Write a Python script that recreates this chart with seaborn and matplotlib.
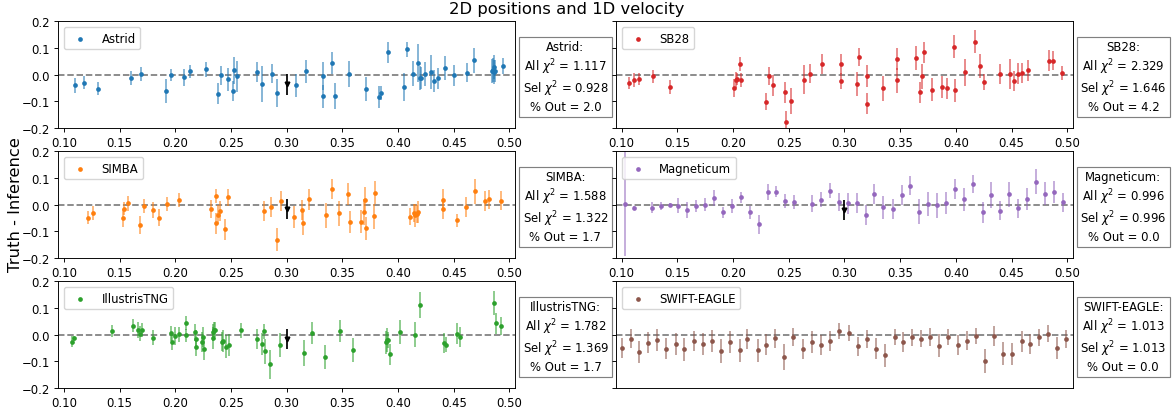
import numpy as np
import matplotlib
matplotlib.use("Agg")
import matplotlib.pyplot as plt
import seaborn as sns

# ---- data ----
astrid_x = [0.110, 0.118, 0.131, 0.160, 0.169, 0.192, 0.196, 0.208, 0.213, 0.228,
            0.238, 0.241, 0.247, 0.252, 0.253, 0.255, 0.273, 0.278, 0.287, 0.291,
            0.308, 0.317, 0.333, 0.333, 0.341, 0.343, 0.356, 0.371, 0.383, 0.385,
            0.391, 0.405, 0.408, 0.413, 0.418, 0.420, 0.421, 0.424, 0.430, 0.432,
            0.436, 0.442, 0.450, 0.462, 0.468, 0.484, 0.485, 0.486, 0.486, 0.487, 0.494]
astrid_y = [-0.040, -0.030, -0.052, -0.012, 0.001, -0.060, -0.001, -0.010, 0.012, 0.020,
            -0.071, -0.003, -0.017, -0.061, 0.016, -0.006, 0.010, -0.035, 0.004, -0.069,
            -0.040, 0.012, -0.006, -0.081, 0.044, -0.081, 0.002, -0.052, -0.084, -0.069,
            0.084, -0.046, 0.095, 0.004, 0.044, -0.012, -0.012, 0.002, 0.010, -0.024,
            -0.014, 0.024, -0.003, 0.008, 0.054, 0.012, 0.016, 0.029, 0.010, 0.014, 0.033]
astrid_err = [0.027, 0.025, 0.024, 0.025, 0.026, 0.045, 0.024, 0.031, 0.024, 0.028,
              0.040, 0.034, 0.043, 0.036, 0.051, 0.058, 0.039, 0.066, 0.035, 0.051,
              0.043, 0.043, 0.052, 0.044, 0.041, 0.049, 0.048, 0.045, 0.042, 0.025,
              0.039, 0.053, 0.029, 0.048, 0.072, 0.044, 0.040, 0.044, 0.062, 0.040,
              0.040, 0.045, 0.040, 0.036, 0.046, 0.045, 0.045, 0.045, 0.045, 0.040, 0.031]

sb28_x = [0.107, 0.111, 0.116, 0.128, 0.143, 0.201, 0.203, 0.204, 0.206, 0.207,
          0.230, 0.232, 0.236, 0.247, 0.248, 0.252, 0.264, 0.269, 0.280, 0.297,
          0.297, 0.311, 0.313, 0.320, 0.320, 0.335, 0.347, 0.347, 0.364, 0.368,
          0.370, 0.371, 0.379, 0.388, 0.392, 0.398, 0.399, 0.408, 0.417, 0.422,
          0.425, 0.440, 0.449, 0.452, 0.456, 0.459, 0.465, 0.484, 0.487, 0.495]
sb28_y = [-0.030, -0.019, -0.016, -0.006, -0.046, -0.051, -0.019, -0.016, 0.040, -0.021,
          -0.101, -0.006, -0.040, -0.066, -0.176, -0.098, -0.019, 0.004, 0.041, 0.041,
          -0.022, -0.035, 0.065, -0.005, -0.109, -0.051, -0.021, 0.059, 0.062, -0.066,
          -0.006, 0.084, -0.056, -0.046, -0.051, 0.104, -0.059, 0.009, 0.124, 0.034,
          -0.027, 0.002, 0.002, -0.024, 0.004, 0.006, 0.016, 0.053, 0.053, 0.005]
sb28_err = [0.022, 0.026, 0.022, 0.024, 0.026, 0.033, 0.030, 0.022, 0.026, 0.026,
            0.032, 0.034, 0.040, 0.040, 0.040, 0.048, 0.055, 0.036, 0.037, 0.037,
            0.030, 0.045, 0.034, 0.042, 0.039, 0.047, 0.047, 0.040, 0.044, 0.040,
            0.047, 0.039, 0.042, 0.042, 0.040, 0.043, 0.044, 0.050, 0.043, 0.045,
            0.030, 0.037, 0.056, 0.036, 0.040, 0.038, 0.040, 0.041, 0.037, 0.026]

simba_x = [0.122, 0.126, 0.153, 0.154, 0.158, 0.168, 0.172, 0.180, 0.185, 0.193,
           0.203, 0.232, 0.237, 0.237, 0.238, 0.240, 0.245, 0.247, 0.280, 0.286,
           0.291, 0.295, 0.307, 0.314, 0.315, 0.320, 0.335, 0.341, 0.347, 0.355,
           0.357, 0.367, 0.369, 0.370, 0.371, 0.378, 0.379, 0.411, 0.414, 0.415,
           0.417, 0.418, 0.440, 0.440, 0.453, 0.461, 0.469, 0.478, 0.482, 0.492]
simba_y = [-0.049, -0.031, -0.050, -0.015, 0.005, -0.076, -0.004, -0.019, -0.049, 0.001,
           0.019, -0.015, 0.034, -0.070, -0.038, -0.024, -0.093, 0.028, -0.024, -0.010,
           -0.131, 0.013, -0.046, -0.021, -0.070, 0.020, -0.040, 0.058, -0.033, 0.040,
           -0.065, -0.064, -0.028, 0.019, -0.089, -0.044, 0.045, -0.046, -0.030, -0.040,
           -0.035, -0.028, 0.019, -0.016, -0.059, -0.009, 0.050, 0.015, 0.020, 0.015]
simba_err = [0.025, 0.025, 0.033, 0.025, 0.027, 0.033, 0.026, 0.030, 0.031, 0.026,
             0.026, 0.034, 0.026, 0.040, 0.036, 0.037, 0.041, 0.032, 0.039, 0.037,
             0.043, 0.038, 0.040, 0.038, 0.044, 0.039, 0.047, 0.038, 0.046, 0.040,
             0.042, 0.044, 0.048, 0.046, 0.042, 0.047, 0.044, 0.032, 0.034, 0.042,
             0.034, 0.040, 0.041, 0.036, 0.023, 0.037, 0.046, 0.037, 0.036, 0.036]

magneticum_x = [0.103, 0.111, 0.127, 0.135, 0.143, 0.151, 0.159, 0.167, 0.175, 0.183,
                0.191, 0.199, 0.207, 0.215, 0.223, 0.231, 0.239, 0.247, 0.255, 0.271,
                0.279, 0.287, 0.295, 0.303, 0.311, 0.319, 0.327, 0.335, 0.344, 0.352,
                0.359, 0.367, 0.375, 0.383, 0.391, 0.399, 0.407, 0.415, 0.424, 0.432,
                0.440, 0.448, 0.456, 0.464, 0.472, 0.480, 0.488, 0.496]
magneticum_y = [0.003, -0.011, -0.011, -0.005, 0.000, -0.004, -0.019, -0.005, 0.000, 0.025,
                -0.029, -0.005, 0.028, -0.029, -0.074, 0.049, 0.049, 0.014, 0.009, 0.004,
                0.019, 0.053, 0.011, 0.005, 0.006, -0.038, 0.040, -0.010, -0.016, 0.035,
                0.071, -0.026, 0.004, -0.003, 0.006, 0.058, 0.020, 0.079, -0.028, 0.036,
                -0.023, 0.039, -0.014, 0.021, 0.086, 0.041, 0.048, 0.009]
magneticum_err = [0.197, 0.007, 0.022, 0.016, 0.006, 0.028, 0.030, 0.024, 0.025, 0.030,
                  0.022, 0.025, 0.021, 0.025, 0.036, 0.030, 0.022, 0.026, 0.026, 0.031,
                  0.028, 0.028, 0.033, 0.040, 0.036, 0.038, 0.039, 0.042, 0.037, 0.037,
                  0.036, 0.047, 0.045, 0.047, 0.040, 0.037, 0.042, 0.034, 0.039, 0.050,
                  0.036, 0.047, 0.036, 0.040, 0.046, 0.044, 0.041, 0.036]

tng_x = [0.107, 0.109, 0.143, 0.162, 0.167, 0.168, 0.170, 0.180, 0.196, 0.197,
         0.200, 0.203, 0.210, 0.210, 0.218, 0.219, 0.219, 0.224, 0.225, 0.226,
         0.234, 0.234, 0.235, 0.236, 0.242, 0.243, 0.246, 0.248, 0.259, 0.273,
         0.278, 0.280, 0.281, 0.285, 0.294, 0.316, 0.323, 0.334, 0.348, 0.360,
         0.389, 0.390, 0.391, 0.393, 0.402, 0.415, 0.420, 0.441, 0.443, 0.453,
         0.456, 0.486, 0.488, 0.492]
tng_y = [-0.026, -0.014, 0.015, 0.034, 0.018, 0.004, 0.018, -0.012, 0.005, -0.029,
         -0.006, 0.001, -0.003, 0.044, 0.009, -0.015, -0.046, -0.028, -0.009, -0.054,
         -0.012, 0.009, 0.019, 0.019, -0.026, -0.024, -0.045, -0.039, 0.016, -0.016,
         -0.034, 0.013, -0.062, -0.111, -0.039, -0.069, 0.006, -0.083, 0.013, -0.058,
         -0.029, -0.021, -0.019, -0.074, 0.009, 0.000, 0.110, -0.030, -0.038, 0.004,
         -0.009, 0.119, 0.043, 0.034]
tng_err = [0.022, 0.008, 0.023, 0.024, 0.030, 0.028, 0.025, 0.028, 0.027, 0.030,
           0.034, 0.028, 0.026, 0.027, 0.032, 0.031, 0.034, 0.037, 0.037, 0.040,
           0.040, 0.031, 0.028, 0.028, 0.036, 0.040, 0.042, 0.042, 0.028, 0.036,
           0.042, 0.028, 0.047, 0.055, 0.044, 0.048, 0.040, 0.046, 0.042, 0.046,
           0.042, 0.045, 0.030, 0.040, 0.045, 0.046, 0.049, 0.038, 0.028, 0.040,
           0.037, 0.044, 0.039, 0.034]

swift_x = [0.100, 0.108, 0.116, 0.124, 0.132, 0.140, 0.149, 0.156, 0.165, 0.173,
           0.181, 0.189, 0.197, 0.206, 0.213, 0.222, 0.230, 0.238, 0.246, 0.254,
           0.263, 0.271, 0.279, 0.287, 0.295, 0.304, 0.312, 0.320, 0.328, 0.336,
           0.345, 0.353, 0.361, 0.369, 0.377, 0.385, 0.393, 0.402, 0.410, 0.418,
           0.426, 0.434, 0.442, 0.450, 0.459, 0.467, 0.475, 0.483, 0.491, 0.499]
swift_y = [-0.050, -0.015, -0.064, -0.030, -0.019, -0.052, -0.035, -0.055, -0.024, -0.035,
           -0.025, -0.061, -0.028, -0.059, -0.016, -0.059, -0.037, -0.014, -0.084, -0.010,
           -0.054, -0.028, -0.040, -0.024, 0.014, 0.006, -0.044, -0.016, -0.052, -0.078,
           -0.009, -0.028, -0.010, -0.015, -0.010, -0.041, -0.009, -0.039, -0.022, -0.005,
           -0.098, -0.005, -0.071, -0.071, -0.025, -0.035, -0.010, 0.004, -0.049, -0.016]
swift_err = [0.039, 0.036, 0.041, 0.039, 0.042, 0.039, 0.042, 0.043, 0.039, 0.040,
             0.041, 0.045, 0.041, 0.042, 0.036, 0.044, 0.039, 0.037, 0.048, 0.034,
             0.037, 0.040, 0.037, 0.037, 0.031, 0.029, 0.037, 0.034, 0.041, 0.044,
             0.031, 0.037, 0.031, 0.033, 0.034, 0.042, 0.030, 0.039, 0.037, 0.031,
             0.046, 0.036, 0.044, 0.041, 0.039, 0.037, 0.033, 0.033, 0.041, 0.033]

# black reference point (x, y, err) per panel; None where not shown
ref_points = [(0.300, -0.036, 0.039), None, (0.300, -0.016, 0.037),
              (0.300, -0.021, 0.037), (0.300, -0.016, 0.039), None]

names = ["Astrid", "SB28", "SIMBA", "Magneticum", "IllustrisTNG", "SWIFT-EAGLE"]
colors = ["tab:blue", "tab:red", "tab:orange", "tab:purple", "tab:green", "tab:brown"]
all_chi2 = ["1.117", "2.329", "1.588", "0.996", "1.782", "1.013"]
sel_chi2 = ["0.928", "1.646", "1.322", "0.996", "1.369", "1.013"]
pct_out = ["2.0", "4.2", "1.7", "0.0", "1.7", "0.0"]

xs = [astrid_x, sb28_x, simba_x, magneticum_x, tng_x, swift_x]
ys = [astrid_y, sb28_y, simba_y, magneticum_y, tng_y, swift_y]
errs = [astrid_err, sb28_err, simba_err, magneticum_err, tng_err, swift_err]

# reference looks like a default-style figure shrunk to ~0.84
k = 0.84
plt.rcParams.update({
    "font.size": 10 * k,
    "axes.linewidth": 0.8 * k,
    "xtick.major.size": 3.5 * k, "ytick.major.size": 3.5 * k,
    "xtick.major.width": 0.8 * k, "ytick.major.width": 0.8 * k,
    "xtick.major.pad": 3.5 * k, "ytick.major.pad": 3.5 * k,
    "xtick.labelsize": 10 * k, "ytick.labelsize": 10 * k,
})

fig = plt.figure(figsize=(11.75, 4.1), dpi=100)
lefts = [0.0496, 0.5243]
bottoms = [0.6854, 0.3683, 0.0512]
w, h = 0.3887, 0.2602

for i, name in enumerate(names):
    row, col = divmod(i, 2)
    ax = fig.add_axes([lefts[col], bottoms[row], w, h])
    c = colors[i]

    ax.errorbar(xs[i], ys[i], yerr=errs[i], fmt="none", ecolor=c,
                elinewidth=1.5 * k, alpha=0.6)
    sns.scatterplot(x=xs[i], y=ys[i], color=c, marker=".", s=46,
                    linewidth=0, label=name, ax=ax, zorder=3)
    if ref_points[i] is not None:
        rx, ry, re = ref_points[i]
        ax.errorbar([rx], [ry], yerr=[re], fmt="v", color="k", ms=4 * k,
                    elinewidth=1.5 * k, zorder=4)
    ax.axhline(0, color="gray", ls="--", lw=1.5 * k, zorder=1)

    ax.set_xlim(0.095, 0.505)
    ax.set_ylim(-0.2, 0.2)
    ax.set_yticks([-0.2, -0.1, 0.0, 0.1, 0.2])
    ax.set_xticks(np.arange(0.10, 0.501, 0.05))
    ax.set_xlabel("")
    ax.set_ylabel("")
    if col == 1:
        ax.set_yticklabels([])
    if i == 5:
        ax.set_xticks([])
    ax.legend(loc="upper left", fontsize=10 * k)

    txt = f"{name}:\nAll $\\chi^2$ = {all_chi2[i]}\nSel $\\chi^2$ = {sel_chi2[i]}\n% Out = {pct_out[i]}"
    ax.text(1.0165, 0.48, txt, transform=ax.transAxes, ha="left", va="center",
            multialignment="center", fontsize=10 * k,
            bbox=dict(boxstyle="square", facecolor="white", edgecolor="gray",
                      linewidth=1.0 * k))

fig.suptitle("2D positions and 1D velocity", fontsize=14 * k, x=0.482, y=0.995)
fig.text(0.013, 0.5, "Truth - Inference", rotation=90, ha="center",
         va="center", fontsize=14 * k)

fig.savefig("out.png", dpi=100)
